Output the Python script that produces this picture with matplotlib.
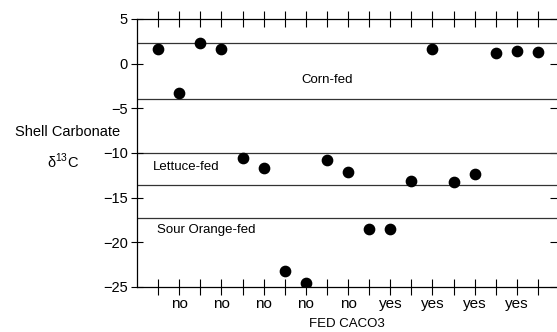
import numpy as np
import matplotlib.pyplot as plt

plt.rcParams['font.family'] = ['Liberation Sans', 'DejaVu Sans']
plt.rcParams['mathtext.fontset'] = 'custom'
plt.rcParams['mathtext.rm'] = 'Liberation Sans'

# one shell per slot along the x axis
slots = np.arange(1, 20)
d13c = [1.6, -3.25, 2.35, 1.6, -10.6, -11.7, -23.2, -24.55, -10.8, -12.1,
        -18.5, -18.5, -13.1, 1.6, -13.3, -12.35, 1.2, 1.4, 1.3]

# diet band boundaries
band_edges = [2.3, -3.95, -10.05, -13.6, -17.3]
band_names = ['Corn-fed', 'Lettuce-fed', 'Sour Orange-fed']

yticks = [5, 0, -5, -10, -15, -20, -25]
fed_labels = ['', 'no', '', 'no', '', 'no', '', 'no', '', 'no',
              '', 'yes', '', 'yes', '', 'yes', '', 'yes', '']

fig = plt.figure(figsize=(5.57, 3.32), dpi=100)
ax = fig.add_axes([137/557, 45/332, 420/557, 268/332])

for yv in band_edges:
    ax.axhline(yv, color='#333333', lw=0.9, zorder=1)

ax.scatter(slots, d13c, s=55, color='black', zorder=3)

ax.text(9, -1.8, band_names[0], fontsize=9.5, ha='center', va='center')
ax.text(0.74, -11.6, band_names[1], fontsize=9.5, ha='left', va='center')
ax.text(0.93, -18.6, band_names[2], fontsize=9.5, ha='left', va='center')

ax.set_xlim(0, 19.9)
ax.set_ylim(-25, 5)
ax.set_yticks(yticks)
ax.set_xticks(slots)
ax.set_xticklabels(fed_labels, fontsize=11)
ax.tick_params(axis='y', labelsize=10.5, direction='inout', length=9,
               width=0.8, pad=2)
ax.tick_params(axis='x', direction='inout', length=11, width=0.8,
               top=True, pad=2)

# short inward ticks on the right edge
rax = ax.secondary_yaxis('right')
rax.set_yticks(yticks)
rax.tick_params(direction='in', length=5, width=0.8, labelright=False)
rax.spines['right'].set_visible(False)

ax.spines['right'].set_visible(False)
for s in ['left', 'top', 'bottom']:
    ax.spines[s].set_linewidth(0.9)

ax.set_xlabel('FED CACO3', fontsize=9.5, labelpad=5)
fig.text(68/557, 1 - 132/332, 'Shell Carbonate', fontsize=10.5,
         ha='center', va='center')
fig.text(63/557, 1 - 161/332, 'δ$^{13}$C', fontsize=10.5,
         ha='center', va='center')

fig.savefig('out.png', dpi=100)
